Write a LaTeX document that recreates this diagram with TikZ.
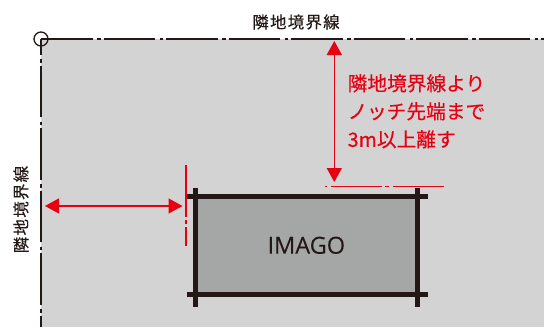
\documentclass[tikz,border=0pt]{standalone}
\usepackage{fontspec}
\setmainfont[FakeBold=0.2]{Open Sans}
\newfontfamily\jpfont[FakeBold=0.25]{Noto Sans CJK JP}
\newfontfamily\jpwide[LetterSpace=8,FakeBold=0.15]{Noto Sans CJK JP}
\usetikzlibrary{arrows.meta,calc}
\definecolor{sitegray}{HTML}{D3D3D3}
\definecolor{housegray}{HTML}{A5A7A6}
\definecolor{inkblack}{HTML}{231815}
\definecolor{notered}{HTML}{E60012}
\tikzstyle{boundary} = [draw=inkblack, line width=1.5pt, dash pattern=on 51.5pt off 4.5pt on 3.5pt off 3pt]
\tikzstyle{offset} = [draw=notered, line width=1.6pt, dash pattern=on 51.5pt off 3.5pt on 4pt off 3pt]
\tikzstyle{frame} = [draw=inkblack, line width=5pt]
\tikzstyle{line} = [draw=notered, line width=1.5pt, {Triangle[length=14pt,width=15pt]}-{Triangle[length=14pt,width=15pt]}]
\tikzstyle{label} = [text=inkblack, inner sep=0pt, font=\jpwide\fontsize{16.4}{16.4}\selectfont]
\begin{document}
\begin{tikzpicture}[x=1pt,y=-1pt]
	\useasboundingbox (0,0) rectangle (544,327);
	\fill [sitegray] (41,39) rectangle (544,327);

	\node [fill=housegray, minimum width=222pt, minimum height=98pt, inner sep=0pt, text=inkblack, font=\fontsize{23.5}{23.5}\selectfont] (imago) at (306.3,245.3) {\raisebox{-1pt}{IMAGO}};

	\coordinate (corner) at (41,39);
	\coordinate (top_end) at (544,39);
	\coordinate (left_end) at (41,327);
	\path [boundary] (corner) -- (top_end);
	\path [boundary, dash phase=36pt] (corner) -- (left_end);
	\node [draw=inkblack, circle, line width=1.3pt, minimum size=14pt, inner sep=0pt] (origin) at (corner) {};

	\node [label] (north_label) at (296,22) {隣地境界線};
	\node [label, rotate=90] (west_label) at (21,209.5) {隣地境界線};

	% frame of the house
	\path [frame] ($(imago.north west)+(-8,0)$) -- ($(imago.north east)+(10,0)$);
	\path [frame] ($(imago.south west)+(-8,0)$) -- ($(imago.south east)+(10,0)$);
	\path [frame] ($(imago.north west)+(0,-8)$) -- ($(imago.south west)+(0,12)$);
	\path [frame] ($(imago.north east)+(0,-8)$) -- ($(imago.south east)+(0,12)$);

	% offset lines and distances
	\coordinate (offset_n_a) at (444,186.5);
	\coordinate (offset_n_b) at (325,186.5);
	\coordinate (offset_w_a) at (186,165);
	\coordinate (offset_w_b) at (186,246);
	\path [offset] (offset_n_a) -- (offset_n_b);
	\path [offset] (offset_w_a) -- (offset_w_b);

	\coordinate (north_tip) at (334.3,41);
	\coordinate (south_tip) at (334.3,182);
	\path [line] (north_tip) -- (south_tip);
	\coordinate (west_tip) at (45,206);
	\coordinate (east_tip) at (182.5,206);
	\path [line] (west_tip) -- (east_tip);

	\node [text=notered, inner sep=0pt, anchor=north west, align=left, font=\jpfont\fontsize{19.7}{28}\selectfont] (note) at (347.5,74) {隣地境界線より\\ノッチ先端まで\\3m以上離す};
\end{tikzpicture}
\end{document}
